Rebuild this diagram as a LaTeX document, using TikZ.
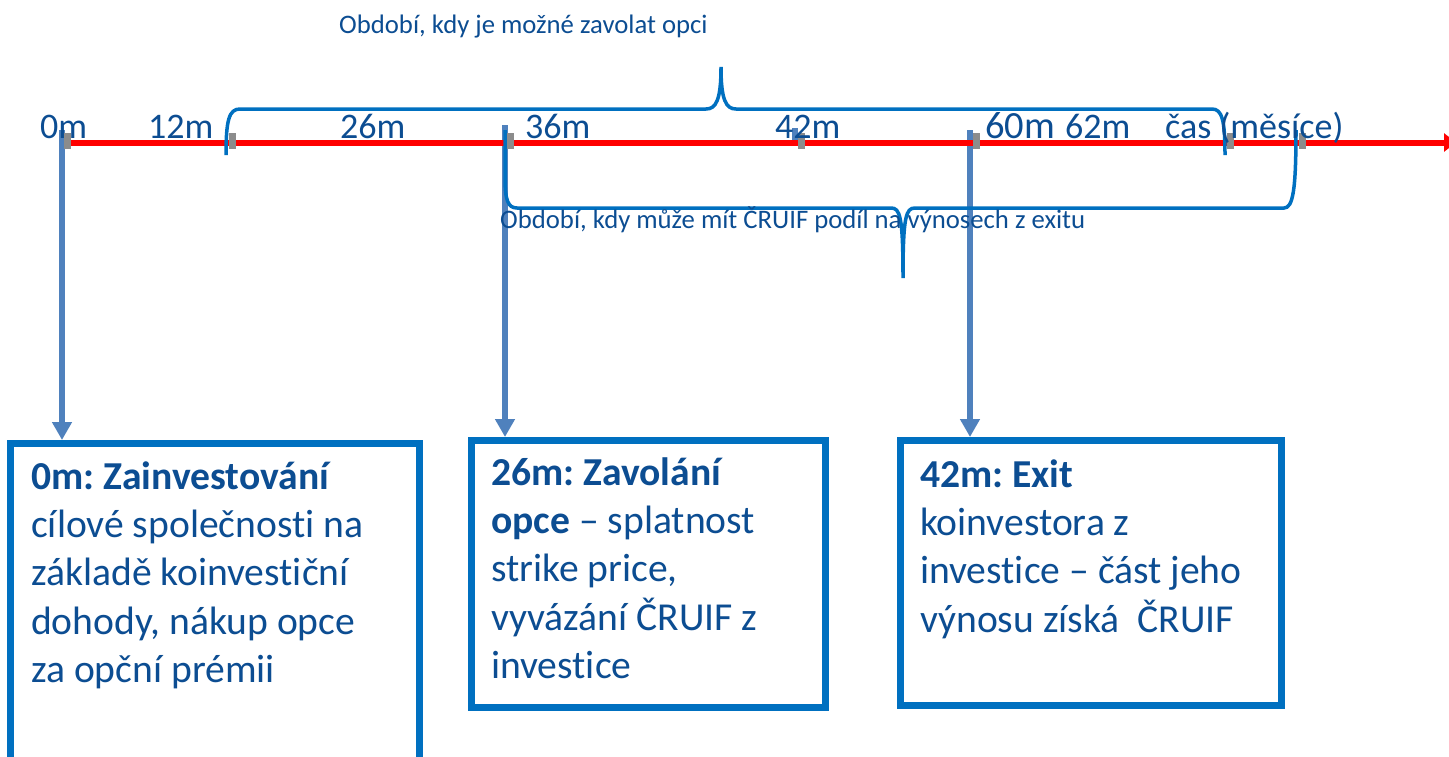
\documentclass[tikz,border=0pt]{standalone}
\usepackage{fontspec}
\setmainfont{Carlito}[Ligatures={NoCommon,NoRequired,NoContextual}]
\usetikzlibrary{arrows.meta}
\definecolor{tcol}{HTML}{0C4D92}
\definecolor{bcol}{HTML}{0070C0}
\definecolor{acol}{HTML}{4F81BD}
\definecolor{gcol}{HTML}{8C8C8C}
\frenchspacing
\tikzset{
  tlabel/.style={text=tcol, inner sep=0, anchor=base west, font=\fontsize{36}{40}\selectfont},
  plabel/.style={text=tcol, inner sep=0, anchor=base west, font=\fontsize{26.7}{30}\selectfont},
  boxstyle/.style={draw=bcol, line width=7pt, fill=white, anchor=north west, inner sep=0, outer sep=3.5pt},
  boxtext/.style={text=tcol, inner sep=0, anchor=base west, font=\fontsize{39.6}{48.4}\selectfont},
  braceline/.style={draw=bcol, line width=3.5pt},
  downarrow/.style={draw=acol, line width=6pt, -{Triangle[width=19pt,length=18pt]}},
  graytick/.style={fill=gcol, draw=none},
  bluetick/.style={fill=acol, draw=none}
}
\begin{document}
\begin{tikzpicture}[x=1pt,y=-1pt]
\useasboundingbox (0,0) rectangle (1449,756);
\clip (0,0) rectangle (1449,756);

% boxes
\node[boxstyle, minimum width=408.5pt, minimum height=400pt] (box1) at (7,440) {};
\node[boxstyle, minimum width=353.5pt, minimum height=266.5pt] (box2) at (468,437) {};
\node[boxstyle, minimum width=381pt, minimum height=265pt] (box3) at (897,437) {};

% box texts
\node[boxtext] (txt1) at (31,489) {\parbox[t]{390pt}{\raggedright\textbf{0m: Zainvestování}\\cílové společnosti na\\základě koinvestiční\\dohody, nákup opce\\za opční prémii}};
\node[boxtext] (txt2) at (491,485) {\parbox[t]{330pt}{\raggedright\textbf{26m: Zavolání}\\\textbf{opce} – splatnost\\strike price,\\vyvázání ČRUIF z\\investice}};
\node[boxtext] (txt3) at (920,487) {\parbox[t]{360pt}{\raggedright\textbf{42m: Exit}\\koinvestora z\\investice – část jeho\\výnosu získá\ \ ČRUIF}};

% arrow start points
\coordinate (a0) at (62,130);
\coordinate (a26) at (505,125);
\coordinate (a60) at (970,130);

% arrows
\draw[downarrow] (a0) -- (a0 |- box1.north);
\draw[downarrow] (a26) -- (a26 |- box2.north);
\draw[downarrow] (a60) -- (a60 |- box3.north);

% 42m blue tick
\fill[bluetick] (792,128) rectangle (798,143);

% time axis
\coordinate (axs) at (66,142.5);
\coordinate (axe) at (1456,142.5);
\draw[red, line width=6pt, -{Triangle[width=18pt,length=12pt]}] (axs) -- (axe);

% braces
\draw[braceline] (226,155) .. controls (226,120) and (229,109) .. (240,109) -- (706,109)
  .. controls (716,109) and (721,100) .. (721,67)
  .. controls (721,100) and (726,109) .. (736,109) -- (1212,109)
  .. controls (1222,109) and (1225,120) .. (1225,155);
\draw[braceline] (505,130) -- (505,178) .. controls (505,200) and (508,208) .. (517,208) -- (891,208)
  .. controls (900,208) and (903,216) .. (903,278)
  .. controls (903,216) and (906,208) .. (915,208) -- (1284,208)
  .. controls (1293,208) and (1296,190) .. (1296,130);

% gray ticks
\foreach \gx in {64,229,507,798,973,1227,1299}{
  \fill[graytick] (\gx,133) rectangle ++(7,16);
}

% axis labels
\node[tlabel] (l0) at (40,138) {0m};
\node[tlabel] (l12) at (148,138) {12m};
\node[tlabel] (l26) at (340,138) {26m};
\node[tlabel] (l36) at (525,138) {36m};
\node[tlabel] (l42) at (775,138) {42m};
\node[tlabel, font=\fontsize{38.5}{42}\selectfont] (l60) at (985,138) {60m};
\node[tlabel] (l62) at (1065,138) {62m};
\node[tlabel] (lcas) at (1165,138) {čas (měsíce)};

% period labels
\node[plabel] (p1) at (339,33) {Období, kdy je možné zavolat opci};
\node[plabel] (p2) at (500,228) {Období, kdy může mít ČRUIF podíl na výnosech z exitu};
\end{tikzpicture}
\end{document}
